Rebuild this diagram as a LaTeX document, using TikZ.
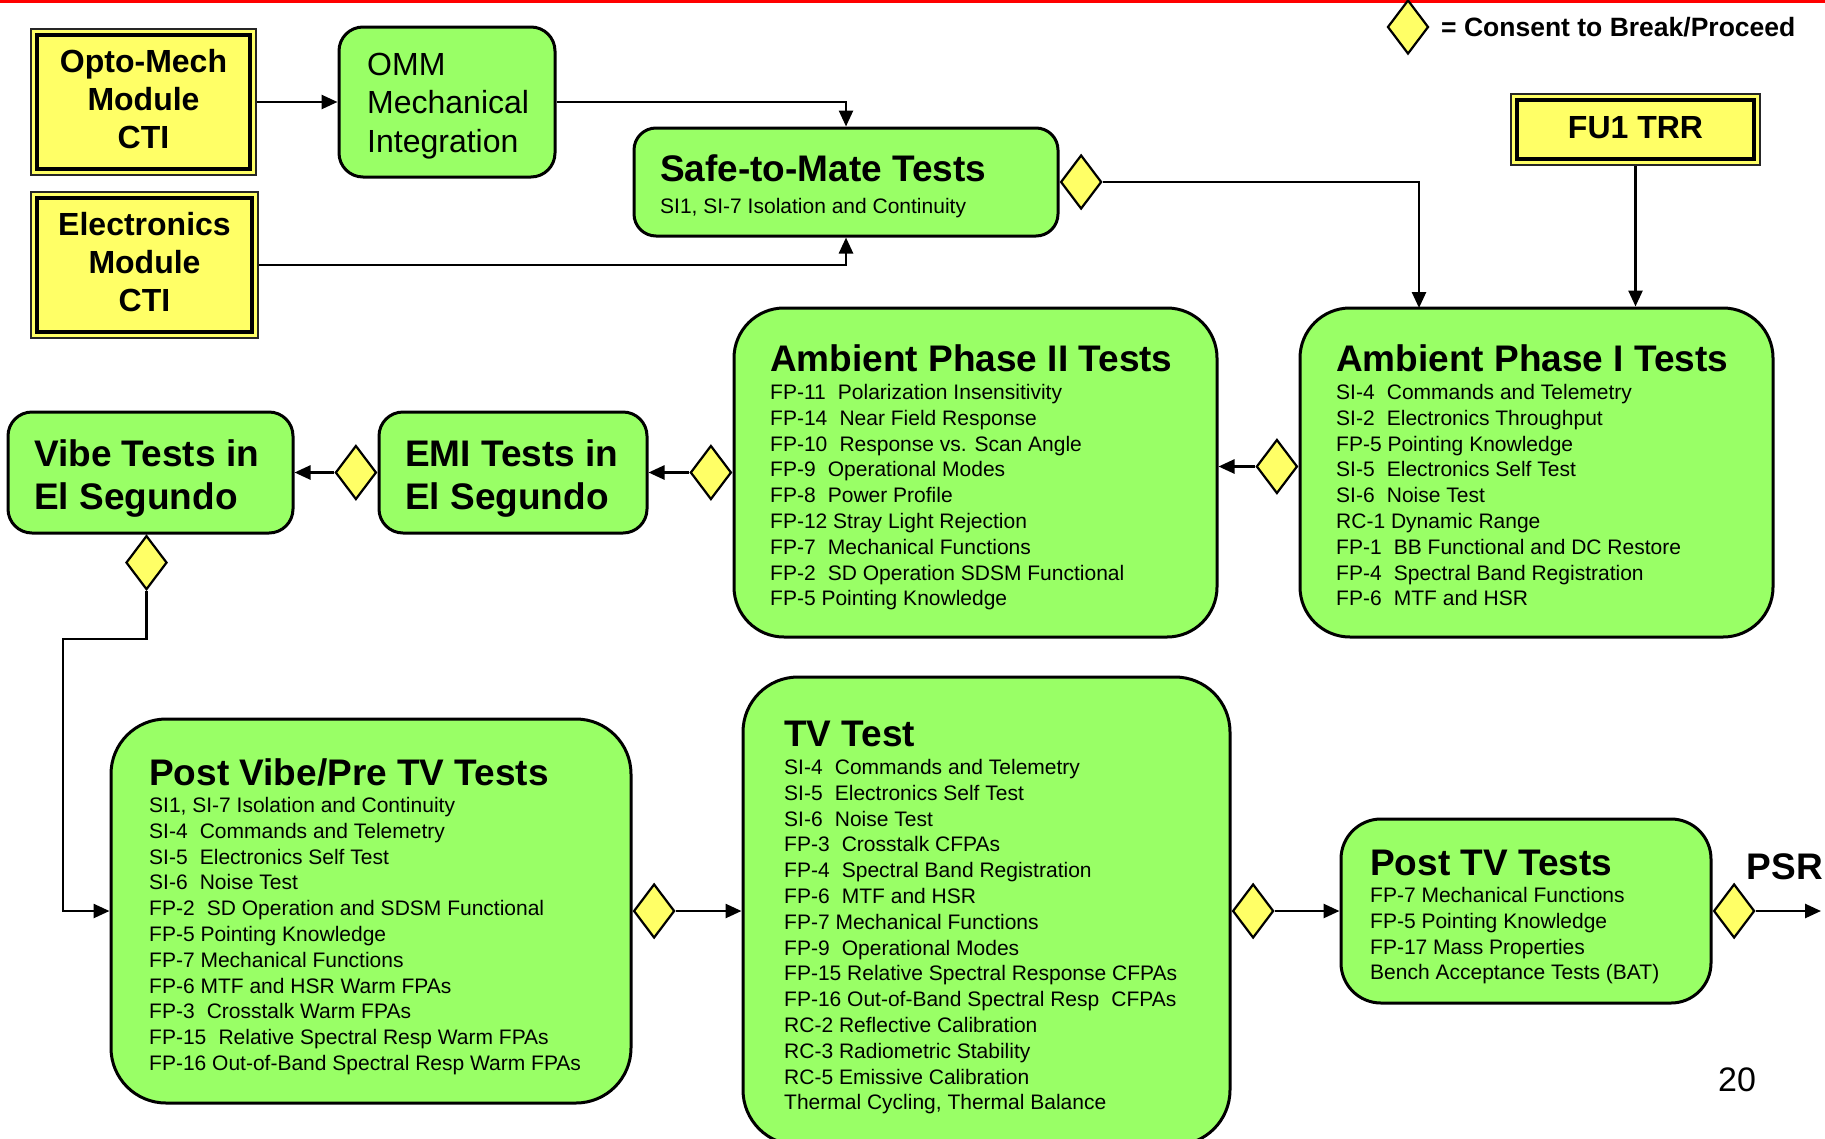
\documentclass[tikz,border=0pt]{standalone}
\usepackage{fontspec}
\setmainfont{Liberation Sans}
\usetikzlibrary{shapes.geometric,arrows.meta}
\definecolor{boxgreen}{HTML}{99FF66}
\definecolor{yel}{HTML}{FFFF66}
\newcommand\xsp{\hspace{0.3em}}
\begin{document}
\begin{tikzpicture}[x=1pt,y=-1pt,
  gbox/.style={draw=black, line width=3pt, fill=boxgreen, inner sep=0pt},
  ybox/.style={draw=black!85, line width=1.5pt, fill=yel, inner sep=0pt},
  yinner/.style={draw=black, line width=3.5pt, inner sep=0pt},
  ytxt/.style={font=\bfseries\fontsize{32}{38}\selectfont, align=center, inner sep=0pt},
  ttl/.style={font=\bfseries\fontsize{37}{43}\selectfont, anchor=base west, inner sep=0pt},
  ttl2/.style={font=\bfseries\fontsize{37}{43}\selectfont, anchor=north west, align=left, inner sep=0pt},
  items/.style={font=\fontsize{21}{25.8}\selectfont, align=left, anchor=north west, inner sep=0pt},
  dia/.style={diamond, draw=black, fill=yel, line width=2.2pt, minimum width=41pt, minimum height=54pt, inner sep=0pt},
  conn/.style={line width=2.6pt},
  arr/.style={conn, -{Triangle[length=16pt,width=14pt]}}
]
\clip (0,0) rectangle (1825,1138);
\fill[red] (0,0) rectangle (1825,3);

% legend
\node[dia] (dleg) at (1408,27) {};
\node[font=\bfseries\fontsize{26.5}{30}\selectfont, anchor=west, inner sep=0pt] (leg) at (1441,27) {= Consent to Break/Proceed};

% yellow boxes
\node[ybox, minimum width=225pt, minimum height=146pt] (opto) at (143.5,102) {};
\node[yinner, minimum width=213pt, minimum height=134pt] (optoin) at (opto.center) {};
\node[ytxt] (optot) at (143.5,99) {Opto-Mech\\Module\\CTI};

\node[ybox, minimum width=227pt, minimum height=146pt] (elec) at (144.5,265) {};
\node[yinner, minimum width=215pt, minimum height=134pt] (elecin) at (elec.center) {};
\node[ytxt] (elect) at (144.5,262) {Electronics\\Module\\CTI};

\node[ybox, minimum width=249pt, minimum height=71pt] (fu1) at (1635.5,129.5) {};
\node[yinner, minimum width=237pt, minimum height=59pt] (fu1in) at (fu1.center) {};
\node[ytxt] (fu1t) at (1635.5,128) {FU1 TRR};

% green boxes
\node[gbox, rounded corners=24pt, minimum width=216pt, minimum height=150pt] (omm) at (447,102) {};
\node[font=\fontsize{32}{38.5}\selectfont, align=left, anchor=west, inner sep=0pt] (ommt) at (367,106) {OMM\\Mechanical\\Integration};

\node[gbox, rounded corners=22pt, minimum width=424pt, minimum height=108pt] (safe) at (846,182) {};
\node[ttl] (safet) at (660,181) {Safe-to-Mate Tests};
\node[font=\fontsize{21}{25.6}\selectfont, anchor=base west, inner sep=0pt] (safes) at (660,213) {SI1, SI-7 Isolation and Continuity};

\node[gbox, rounded corners=50pt, minimum width=473pt, minimum height=329pt] (amb1) at (1536.5,472.5) {};
\node[ttl] (amb1t) at (1336,371) {Ambient Phase I Tests};
\node[items] (amb1i) at (1336,384) {SI-4\xsp{} Commands and Telemetry\\
SI-2\xsp{} Electronics Throughput\\
FP-5 Pointing Knowledge\\
SI-5\xsp{} Electronics Self Test\\
SI-6\xsp{} Noise Test\\
RC-1 Dynamic Range\\
FP-1\xsp{} BB Functional and DC Restore\\
FP-4\xsp{} Spectral Band Registration\\
FP-6\xsp{} MTF and HSR};

\node[gbox, rounded corners=50pt, minimum width=483pt, minimum height=329pt] (amb2) at (975.5,472.5) {};
\node[ttl] (amb2t) at (770,371) {Ambient Phase II Tests};
\node[items] (amb2i) at (770,384) {FP-11\xsp{} Polarization Insensitivity\\
FP-14\xsp{} Near Field Response\\
FP-10\xsp{} Response vs. Scan Angle\\
FP-9\xsp{} Operational Modes\\
FP-8\xsp{} Power Profile\\
FP-12 Stray Light Rejection\\
FP-7\xsp{} Mechanical Functions\\
FP-2\xsp{} SD Operation SDSM Functional\\
FP-5 Pointing Knowledge};

\node[gbox, rounded corners=24pt, minimum width=268pt, minimum height=121pt] (emi) at (513,472.5) {};
\node[ttl2] (emit) at (405,439) {EMI Tests in\\El Segundo};

\node[gbox, rounded corners=24pt, minimum width=285pt, minimum height=121pt] (vibe) at (150.5,472.5) {};
\node[ttl2] (vibet) at (34,439) {Vibe Tests in\\El Segundo};

\node[gbox, rounded corners=55pt, minimum width=520pt, minimum height=384pt] (pv) at (371,911) {};
\node[ttl] (pvt) at (149,785) {Post Vibe/Pre TV Tests};
\node[items] (pvi) at (149,797) {SI1, SI-7 Isolation and Continuity\\
SI-4\xsp{} Commands and Telemetry\\
SI-5\xsp{} Electronics Self Test\\
SI-6\xsp{} Noise Test\\
FP-2\xsp{} SD Operation and SDSM Functional\\
FP-5 Pointing Knowledge\\
FP-7 Mechanical Functions\\
FP-6 MTF and HSR Warm FPAs\\
FP-3\xsp{} Crosstalk Warm FPAs\\
FP-15\xsp{} Relative Spectral Resp Warm FPAs\\
FP-16 Out-of-Band Spectral Resp Warm FPAs};

\node[gbox, rounded corners=55pt, minimum width=487pt, minimum height=468pt] (tv) at (986.5,911) {};
\node[ttl] (tvt) at (784,746) {TV Test};
\node[items] (tvi) at (784,759) {SI-4\xsp{} Commands and Telemetry\\
SI-5\xsp{} Electronics Self Test\\
SI-6\xsp{} Noise Test\\
FP-3\xsp{} Crosstalk CFPAs\\
FP-4\xsp{} Spectral Band Registration\\
FP-6\xsp{} MTF and HSR\\
FP-7 Mechanical Functions\\
FP-9\xsp{} Operational Modes\\
FP-15 Relative Spectral Response CFPAs\\
FP-16 Out-of-Band Spectral Resp\xsp{} CFPAs\\
RC-2 Reflective Calibration\\
RC-3 Radiometric Stability\\
RC-5 Emissive Calibration\\
Thermal Cycling, Thermal Balance};

\node[gbox, rounded corners=40pt, minimum width=370pt, minimum height=184pt] (ptv) at (1526,911) {};
\node[ttl] (ptvt) at (1370,875) {Post TV Tests};
\node[items] (ptvi) at (1370,887) {FP-7 Mechanical Functions\\
FP-5 Pointing Knowledge\\
FP-17 Mass Properties\\
Bench Acceptance Tests (BAT)};

\node[font=\bfseries\fontsize{37}{43}\selectfont, inner sep=0pt] (psr) at (1785,867) {PSR};
\node[font=\fontsize{34}{40}\selectfont, inner sep=0pt] (pnum) at (1737,1080) {20};

% connectors
\draw[arr] (opto.east) -- (omm.west);
\draw[arr] (omm.east) -| (safe.north);
\draw[arr] (elec.east) -| (safe.south);
\node[dia, anchor=west] (dsafe) at (safe.east) {};
\coordinate (a1in) at (1419,308);
\draw[arr] (dsafe.east) -| (a1in);
\draw[arr] (fu1.south) -- (fu1.south |- amb1.north);
\node[dia, anchor=east] (da1) at ([yshift=6pt]amb1.west) {};
\draw[arr] (da1.west) -- (da1.west -| amb2.east);
\node[dia, anchor=east] (da2) at (amb2.west) {};
\draw[arr] (da2.west) -- (da2.west -| emi.east);
\node[dia, anchor=east] (demi) at (emi.west) {};
\draw[arr] (demi.west) -- (demi.west -| vibe.east);
\node[dia, anchor=north] (dvibe) at ([xshift=-4pt]vibe.south) {};
\coordinate (bend) at (63,639);
\draw[arr] (dvibe.south) |- (bend) |- (pv.west);
\node[dia, anchor=west] (dpv) at (pv.east) {};
\draw[arr] (dpv.east) -- (tv.west);
\node[dia, anchor=west] (dtv) at (tv.east) {};
\draw[arr] (dtv.east) -- (ptv.west);
\node[dia, anchor=west] (dptv) at (ptv.east) {};
\coordinate (psrend) at (1821,911);
\draw[arr] (dptv.east) -- (psrend);
\end{tikzpicture}
\end{document}
